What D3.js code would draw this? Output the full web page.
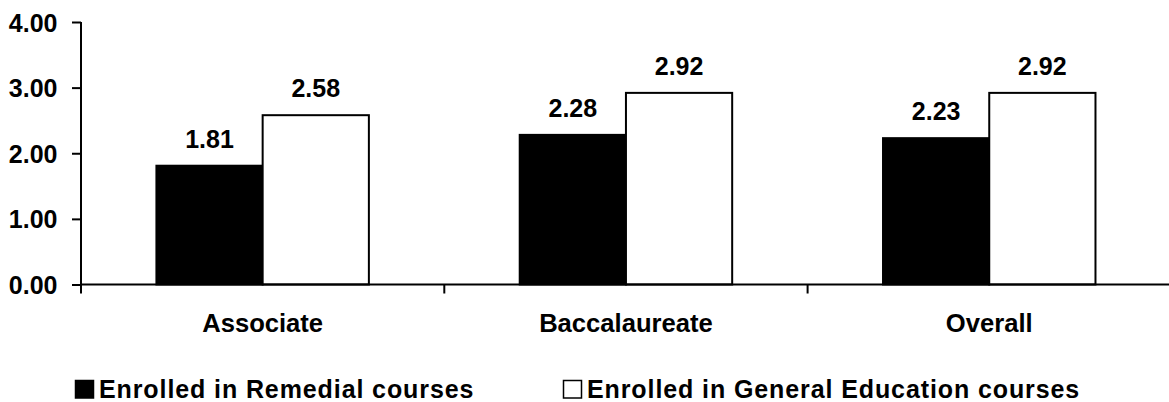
<!DOCTYPE html>
<html>
<head>
<meta charset="utf-8">
<script src="https://cdn.jsdelivr.net/npm/d3@7/dist/d3.min.js"></script>
<style>
  html, body { margin: 0; padding: 0; background: #fff; }
  svg { display: block; }
  text { font-family: "Liberation Sans", Arial, sans-serif; font-weight: bold; fill: #000; }
</style>
</head>
<body>
<svg id="chart" width="1169" height="402"></svg>
<script>
const categories = ["Associate", "Baccalaureate", "Overall"];
const seriesNames = ["Enrolled in Remedial courses", "Enrolled in General Education courses"];
const remedial = [1.81, 2.28, 2.23];
const generalEd = [2.58, 2.92, 2.92];
const yTicks = [0, 1, 2, 3, 4];
const seriesFill = ["#000000", "#ffffff"];

(function () {
const svg = d3.select("#chart");
const mLeft = 81, axisRight = 1169, mTop = 22, mBottom = 284.5;

const x0 = d3.scaleBand().domain(categories).range([mLeft, mLeft + 3 * 363.3]).padding(0);
const x1 = d3.scaleBand().domain(seriesNames).range([0, x0.bandwidth()]).paddingInner(0).paddingOuter(0.71);
const y = d3.scaleLinear().domain([0, 4]).range([mBottom, mTop]);

const data = categories.map((c, i) => ({
  cat: c,
  vals: [
    { s: seriesNames[0], v: remedial[i], fill: seriesFill[0] },
    { s: seriesNames[1], v: generalEd[i], fill: seriesFill[1] }
  ]
}));

// bars
const g = svg.append("g");
const groups = g.selectAll("g.cat").data(data).join("g")
  .attr("class", "cat")
  .attr("transform", d => `translate(${x0(d.cat)},0)`);

groups.selectAll("rect").data(d => d.vals).join("rect")
  .attr("x", d => x1(d.s))
  .attr("y", d => y(d.v))
  .attr("width", x1.bandwidth())
  .attr("height", d => y(0) - y(d.v))
  .attr("fill", d => d.fill)
  .attr("stroke", "#000")
  .attr("stroke-width", 2);

groups.selectAll("text.val").data(d => d.vals).join("text")
  .attr("class", "val")
  .attr("x", d => x1(d.s) + x1.bandwidth() / 2)
  .attr("y", d => y(d.v) - 18)
  .attr("text-anchor", "middle")
  .style("font-size", "25px")
  .text(d => d.v.toFixed(2));

// y axis
const yAxis = d3.axisLeft(y).tickValues(yTicks).tickFormat(d3.format(".2f")).tickSize(9).tickPadding(14.5);
const ya = svg.append("g").attr("transform", `translate(${mLeft},0)`).call(yAxis);
ya.select(".domain").attr("stroke", "#000").attr("stroke-width", 2).attr("d", `M0,${mTop}V${mBottom}`);
ya.selectAll(".tick line").attr("stroke", "#000").attr("stroke-width", 2);
ya.selectAll(".tick text").style("font-size", "25px").attr("font-family", null).attr("dy", "0.36em");

// x axis
const xTickScale = d3.scaleLinear().domain([0, 3]).range([mLeft, mLeft + 3 * 363.3]);
svg.append("line")
  .attr("x1", mLeft).attr("x2", axisRight)
  .attr("y1", y(0)).attr("y2", y(0))
  .attr("stroke", "#000").attr("stroke-width", 2);
svg.append("g").selectAll("line").data([0, 1, 2]).join("line")
  .attr("x1", d => xTickScale(d)).attr("x2", d => xTickScale(d))
  .attr("y1", y(0)).attr("y2", y(0) + 9)
  .attr("stroke", "#000").attr("stroke-width", 2);

svg.append("g").selectAll("text").data(categories).join("text")
  .attr("x", d => x0(d) + x0.bandwidth() / 2)
  .attr("y", 332)
  .attr("text-anchor", "middle")
  .style("font-size", "25.6px")
  .text(d => d);

// legend
const legendX = [75.5, 563.5];
const leg = svg.append("g").selectAll("g").data(seriesNames).join("g")
  .attr("transform", (d, i) => `translate(${legendX[i]},380.5)`);
leg.append("rect")
  .attr("x", 0).attr("y", 0).attr("width", 18).attr("height", 17.5)
  .attr("fill", (d, i) => seriesFill[i])
  .attr("stroke", "#000").attr("stroke-width", 1.5);
leg.append("text")
  .attr("x", 23.5).attr("y", 17.5)
  .style("font-size", "25px")
  .style("letter-spacing", "0.9px")
  .text(d => d);
})();
</script>
</body>
</html>
